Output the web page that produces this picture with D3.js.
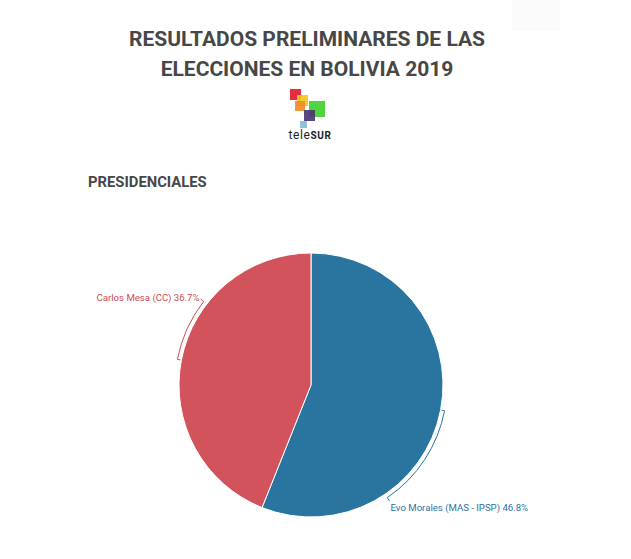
<!DOCTYPE html>
<html>
<head>
<meta charset="utf-8">
<script src="https://cdn.jsdelivr.net/npm/d3@7"></script>
<style>
  body { margin: 0; background: #fff; }
  svg text { font-family: Roboto, "Noto Sans", sans-serif; }
</style>
</head>
<body>
<div id="chart-area"></div>
<script>
// data
var candidates = ["Evo Morales (MAS - IPSP)", "Carlos Mesa (CC)"];
var votes = [46.8, 36.7];
var sliceColors = ["#2a74a0", "#d3535c"];
var labelColors = ["#2b73a3", "#cf4c56"];
var titleLines = ["RESULTADOS PRELIMINARES DE LAS", "ELECCIONES EN BOLIVIA 2019"];
var subtitle = "PRESIDENCIALES";

var width = 631, height = 559;
var cx = 311, cy = 385, radius = 132;

var svg = d3.select("#chart-area").append("svg")
    .attr("width", width)
    .attr("height", height);

// faint box top right
svg.append("rect")
    .attr("x", 512).attr("y", 0).attr("width", 48).attr("height", 31)
    .attr("fill", "#fbfbfb");

// title
svg.selectAll("text.title").data(titleLines).enter()
    .append("text")
    .attr("class", "title")
    .attr("x", 307)
    .attr("y", (d, i) => 45.5 + i * 30.5)
    .attr("text-anchor", "middle")
    .attr("font-size", 21)
    .attr("font-weight", "bold")
    .attr("fill", "#474747")
    .text(d => d);

// teleSUR logo
var logo = svg.append("g");
var squares = [
    {x: 290, y: 89, s: 11, c: "#e2162a"},
    {x: 297, y: 95, s: 11, c: "#f4c51c"},
    {x: 295, y: 101, s: 10, c: "#f08a24"},
    {x: 309, y: 101, s: 16, c: "#3fcf2c"},
    {x: 304, y: 110, s: 11, c: "#4a3472"},
    {x: 300, y: 121, s: 7, c: "#86b9d6"}
];
logo.selectAll("rect").data(squares).enter()
    .append("rect")
    .attr("x", d => d.x).attr("y", d => d.y)
    .attr("width", d => d.s).attr("height", d => d.s)
    .attr("fill", d => d.c)
    .attr("opacity", 0.9);
var lt = logo.append("text")
    .attr("x", 310).attr("y", 139)
    .attr("text-anchor", "middle")
    .attr("font-size", 12)
    .attr("letter-spacing", 0.6)
    .attr("fill", "#222");
lt.append("tspan").text("tele");
lt.append("tspan").attr("font-weight", "bold").attr("font-size", 10).text("SUR");

// subtitle
svg.append("text")
    .attr("x", 88).attr("y", 187)
    .attr("font-size", 14.8)
    .attr("font-weight", "bold")
    .attr("fill", "#474747")
    .text(subtitle);

// pie
var data = candidates.map((c, i) => ({name: c, value: votes[i], i: i}));
var pie = d3.pie().sort(null).value(d => d.value);
var arc = d3.arc().innerRadius(0).outerRadius(radius);
var arcs = pie(data);

var g = svg.append("g")
    .attr("transform", "translate(" + cx + "," + cy + ")");

g.selectAll("path.slice").data(arcs).enter()
    .append("path")
    .attr("class", "slice")
    .attr("d", arc)
    .attr("fill", d => sliceColors[d.data.i])
    .attr("stroke", "#fff")
    .attr("stroke-width", 1);

// bracket callouts: arc from slice middle toward the label
var sweep = [45, 27];   // degrees the bracket runs past the middle
function pt(a, r) { return [r * Math.sin(a), -r * Math.cos(a)]; }

arcs.forEach(d => {
    var i = d.data.i;
    var mid = (d.startAngle + d.endAngle) / 2;
    var end = mid + sweep[i] * Math.PI / 180;
    var rb = radius + 4;
    var p = d3.path();
    var a0 = pt(mid, radius + 1);
    p.moveTo(a0[0], a0[1]);
    var a1 = pt(mid, rb);
    p.lineTo(a1[0], a1[1]);
    p.arc(0, 0, rb, mid - Math.PI / 2, end - Math.PI / 2, false);
    var tip = pt(end, rb + 4);
    p.lineTo(tip[0], tip[1]);
    g.append("path")
        .attr("d", p.toString())
        .attr("fill", "none")
        .attr("stroke", labelColors[i])
        .attr("stroke-width", 1);

    var label = g.append("text")
        .attr("font-size", 9.6)
        .attr("fill", labelColors[i])
        .text(d.data.name + " " + d.data.value + "%");
    if (Math.sin(end) < 0) {
        label.attr("x", tip[0] - 1).attr("y", tip[1] + 2).attr("text-anchor", "end");
    } else {
        label.attr("x", tip[0] + 1).attr("y", tip[1] + 10).attr("text-anchor", "start");
    }
});
</script>
</body>
</html>
